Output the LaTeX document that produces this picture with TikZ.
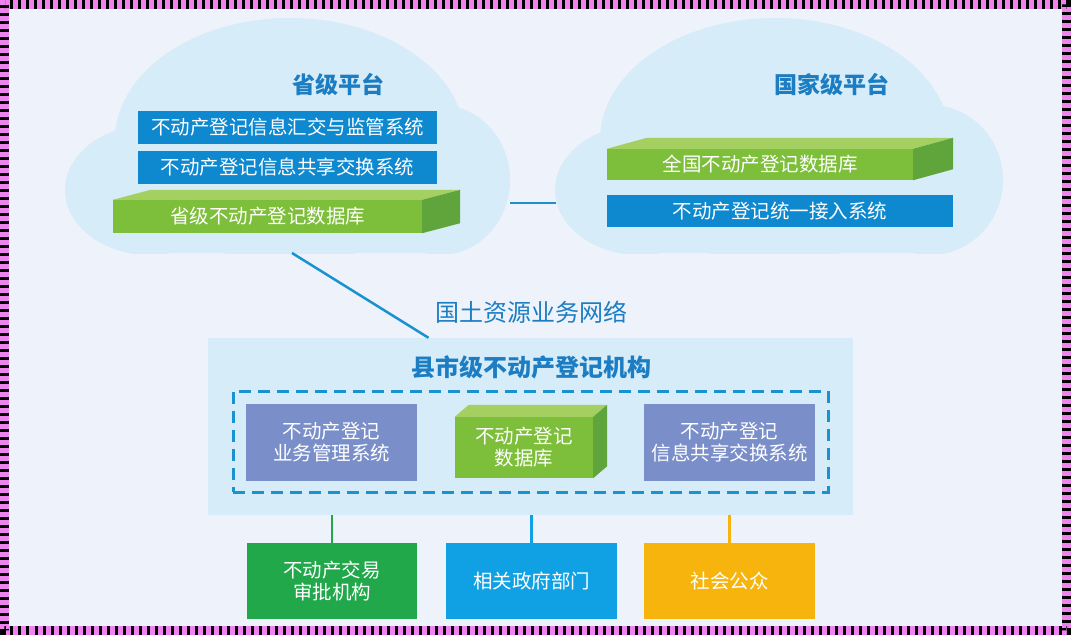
\documentclass[tikz,border=0pt]{standalone}
\usepackage{fontspec}
\setmainfont{Noto Sans CJK SC}
\usetikzlibrary{positioning}
\definecolor{pagebg}{HTML}{EEF2FA}
\definecolor{cloudblue}{HTML}{D6ECF8}
\definecolor{titleblue}{HTML}{1C7DC2}
\definecolor{sysblue}{HTML}{0E88CF}
\definecolor{dbfront}{HTML}{7DBE3A}
\definecolor{dbtop}{HTML}{A4D062}
\definecolor{dbside}{HTML}{5FA53B}
\definecolor{sysviolet}{HTML}{7A8FC9}
\definecolor{tradegreen}{HTML}{21A84A}
\definecolor{govblue}{HTML}{10A0E4}
\definecolor{publicorange}{HTML}{F7B40C}
\definecolor{linkblue}{HTML}{1A92D0}
\definecolor{framepink}{HTML}{EE82EE}
\tikzstyle{title} = [text=titleblue, font=\fontsize{23}{26}\selectfont\bfseries]
\tikzstyle{sysbox} = [rectangle, fill=sysblue, text=white, inner sep=0pt, minimum height=33pt, font=\fontsize{19.5}{22}\selectfont]
\tikzstyle{dbslab} = [rectangle, fill=dbfront, text=white, inner sep=0pt, align=center, font=\fontsize{19.5}{22}\selectfont]
\tikzstyle{subsys} = [rectangle, fill=sysviolet, text=white, inner sep=0pt, minimum width=171pt, minimum height=77pt, align=center, font=\fontsize{19.5}{22}\selectfont]
\tikzstyle{user} = [rectangle, text=white, inner sep=0pt, minimum width=171pt, minimum height=76pt, align=center, font=\fontsize{19.5}{22}\selectfont]
\tikzstyle{link} = [line width=2.5pt, draw=linkblue]

\begin{document}
\begin{tikzpicture}[x=1pt, y=-1pt]

\useasboundingbox (0,0) rectangle (1071,635);
\fill[pagebg] (0,0) rectangle (1071,635);

% clouds
\begin{scope}
\clip (0,0) rectangle (1071,253);
\fill[cloudblue] (290,140) ellipse [x radius=175, y radius=122];
\fill[cloudblue] (150,190) ellipse [x radius=85, y radius=65];
\fill[cloudblue] (440,180) ellipse [x radius=70, y radius=75];
\fill[cloudblue] (150,150) rectangle (440,253);
\fill[cloudblue] (775,140) ellipse [x radius=175, y radius=122];
\fill[cloudblue] (640,190) ellipse [x radius=85, y radius=65];
\fill[cloudblue] (930,180) ellipse [x radius=73, y radius=75];
\fill[cloudblue] (640,150) rectangle (930,253);
\end{scope}

\node (provTitle) [title] at (338,85) {省级平台};
\node (provSum) [sysbox, minimum width=299pt] at (287.5,127.5) {不动产登记信息汇交与监管系统};
\node (provShare) [sysbox, minimum width=299pt] at (287.5,167.5) {不动产登记信息共享交换系统};
\node (provDb) [dbslab, minimum width=309pt, minimum height=33pt] at (267.5,216.5) {省级不动产登记数据库};

\node (natTitle) [title] at (832,85) {国家级平台};
\node (natDb) [dbslab, minimum width=306pt, minimum height=31pt] at (760,164.5) {全国不动产登记数据库};
\node (natAccess) [sysbox, minimum width=346pt, minimum height=32pt] at (780,211) {不动产登记统一接入系统};

\fill[dbtop] (provDb.north west) -- ++(38,-10) -- ([shift={(38,-10)}]provDb.north east) -- (provDb.north east) -- cycle;
\fill[dbside] (provDb.north east) -- ++(38,-10) -- ([shift={(38,-10)}]provDb.south east) -- (provDb.south east) -- cycle;
\fill[dbtop] (natDb.north west) -- ++(40,-11) -- ([shift={(40,-11)}]natDb.north east) -- (natDb.north east) -- cycle;
\fill[dbside] (natDb.north east) -- ++(40,-11) -- ([shift={(40,-11)}]natDb.south east) -- (natDb.south east) -- cycle;

\coordinate (provRight) at (510,203);
\coordinate (natLeft) at (556,203);
\coordinate (provBottom) at (292,253);

\node (county) [rectangle, fill=cloudblue, minimum width=645pt, minimum height=177pt, inner sep=0pt] at (530.5,426.5) {};
\node (countyTitle) [title, font=\fontsize{24}{26}\selectfont\bfseries] at (531,367) {县市级不动产登记机构};
\node (frame) [rectangle, draw=linkblue, line width=3pt, dash pattern=on 12pt off 7pt, minimum width=595pt, minimum height=101pt, inner sep=0pt] at (530.5,441.5) {};
\node (bizSys) [subsys] at (331.5,442.5) {不动产登记\\业务管理系统};
\node (countyDb) [dbslab, minimum width=138pt, minimum height=61pt] at (524,447.5) {不动产登记\\数据库};
\node (shareSys) [subsys] at (729.5,442.5) {不动产登记\\信息共享交换系统};
\fill[dbtop] (countyDb.north west) -- ++(14,-12) -- ([shift={(14,-12)}]countyDb.north east) -- (countyDb.north east) -- cycle;
\fill[dbside] (countyDb.north east) -- ++(14,-12) -- ([shift={(14,-12)}]countyDb.south east) -- (countyDb.south east) -- cycle;

\node (net) [text=titleblue, font=\fontsize{24}{26}\selectfont] at (531,312) {国土资源业务网络};

\node (trade) [user, fill=tradegreen, minimum width=170pt] at (332,581) {不动产交易\\审批机构};
\node (gov) [user, fill=govblue] at (531.5,581) {相关政府部门};
\node (public) [user, fill=publicorange] at (729.5,581) {社会公众};

\draw [link] (provRight) -- (natLeft);
\draw [link] (provBottom) -- ([xshift=-102pt]county.north);
\draw [line width=2.5pt, tradegreen] (trade.north) -- (trade.north |- county.south);
\draw [line width=2.5pt, govblue] (gov.north) -- (gov.north |- county.south);
\draw [line width=2.5pt, publicorange] (public.north) -- (public.north |- county.south);

\draw [line width=9pt, framepink] (4.5,4.5) rectangle (1066.5,630.5);
\draw [line width=9pt, black, dash pattern=on 3pt off 5pt] (4.5,4.5) rectangle (1066.5,630.5);

\end{tikzpicture}
\end{document}
